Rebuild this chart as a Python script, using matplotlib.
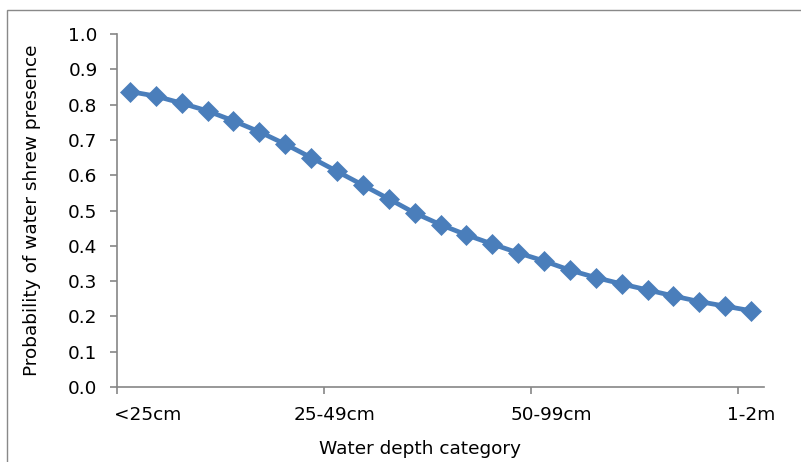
import matplotlib
matplotlib.use("Agg")
import matplotlib.pyplot as plt
from matplotlib.patches import Rectangle

# probability of water shrew presence across the depth gradient (25 steps)
probability = [0.837, 0.824, 0.804, 0.782, 0.754, 0.723, 0.688, 0.650, 0.611,
               0.572, 0.533, 0.493, 0.460, 0.431, 0.405, 0.380, 0.357, 0.331,
               0.310, 0.292, 0.275, 0.258, 0.242, 0.229, 0.216]
depth_labels = ["<25cm", "25-49cm", "50-99cm", "1-2m"]
yticks = [0.0, 0.1, 0.2, 0.3, 0.4, 0.5, 0.6, 0.7, 0.8, 0.9, 1.0]

W, H = 801, 462
FS = 13.3
fig = plt.figure(figsize=(W / 100, H / 100), dpi=100)
ax = fig.add_axes([117 / W, 1 - 387 / H, (764 - 117) / W, (387 - 34) / H])

# chart area border (left and top visible)
fig.patches.append(Rectangle((7 / W, -0.1), 1.2, 1 - 10 / H + 0.1,
                             transform=fig.transFigure, fill=False,
                             edgecolor="#898989", linewidth=1.0))

x = list(range(len(probability)))
ax.plot(x, probability, color="#4a7ebb", linewidth=3.4, marker="D",
        markersize=10, markeredgewidth=0.5, markeredgecolor="#4a7ebb",
        solid_joinstyle="round")

ax.set_xlim(-0.5, len(probability) - 0.5)
ax.set_ylim(0, 1.0)
ax.set_yticks(yticks)
ax.set_yticklabels([f"{v:.1f}" for v in yticks])

# tick marks sit between categories, every 8 categories
ax.set_xticks([-0.5, 7.5, 15.5, 23.5])
ax.set_xticklabels([])
ax.set_xticks([0.67, 7.92, 16.3, 24.0], minor=True)
ax.set_xticklabels(depth_labels, minor=True)
ax.tick_params(axis="x", which="minor", length=0, pad=14)

for s in ["top", "right"]:
    ax.spines[s].set_visible(False)
for s in ["left", "bottom"]:
    ax.spines[s].set_color("#868686")
    ax.spines[s].set_linewidth(1.2)
ax.tick_params(axis="both", which="major", color="#868686", length=5,
               width=1.2, labelsize=FS)
ax.tick_params(axis="y", pad=9)
ax.tick_params(axis="x", which="minor", labelsize=FS)

ax.set_ylabel("Probability of water shrew presence", fontsize=FS)
ax.set_xlabel("Water depth category", fontsize=FS)
ax.yaxis.set_label_coords(-(117 - 41) / (764 - 117), 0.5)
ax.xaxis.set_label_coords((420 - 117) / (764 - 117), -(440 - 387) / (387 - 34))

fig.savefig("out.png", dpi=100)
